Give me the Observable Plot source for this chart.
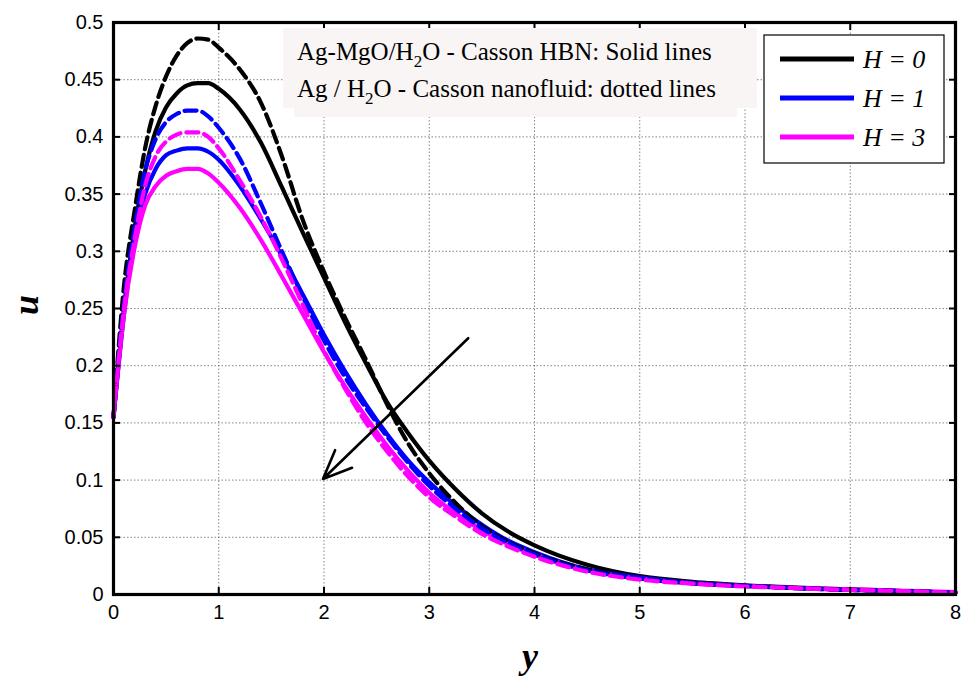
<!DOCTYPE html>
<html>
<head>
<meta charset="utf-8">
<script src="https://cdn.jsdelivr.net/npm/d3@7"></script>
<script src="https://cdn.jsdelivr.net/npm/@observablehq/plot@0.6"></script>
<style>
  html, body { margin: 0; padding: 0; background: #fff; }
  #chart { width: 964px; height: 679px; }
</style>
</head>
<body>
<div id="chart"></div>
<script>
// y (horizontal axis) sample positions
const yPos = [0, 0.1, 0.2, 0.3, 0.4, 0.5, 0.6, 0.7, 0.8, 0.9, 1.0, 1.2, 1.4, 1.6, 1.8, 2.0, 2.2, 2.4, 2.6, 2.8, 3.0, 3.25, 3.5, 3.75, 4.0, 4.5, 5, 5.5, 6, 6.5, 7, 7.5, 8];

// Ag-MgO/H2O Casson HBN (solid lines)
const hbn_H0 = [0.155, 0.25, 0.32, 0.37, 0.405, 0.426, 0.438, 0.445, 0.447, 0.447, 0.442, 0.424, 0.395, 0.356, 0.316, 0.277, 0.238, 0.202, 0.168, 0.141, 0.117, 0.092, 0.071, 0.055, 0.043, 0.026, 0.016, 0.011, 0.008, 0.006, 0.0045, 0.003, 0.0015];
const hbn_H1 = [0.155, 0.245, 0.31, 0.35, 0.372, 0.384, 0.388, 0.39, 0.39, 0.387, 0.38, 0.357, 0.328, 0.296, 0.262, 0.227, 0.195, 0.166, 0.14, 0.117, 0.098, 0.078, 0.061, 0.047, 0.037, 0.022, 0.015, 0.01, 0.0075, 0.0055, 0.004, 0.003, 0.0015];
const hbn_H3 = [0.155, 0.245, 0.303, 0.34, 0.357, 0.366, 0.37, 0.372, 0.372, 0.368, 0.36, 0.338, 0.31, 0.278, 0.245, 0.212, 0.182, 0.155, 0.13, 0.108, 0.089, 0.071, 0.056, 0.044, 0.035, 0.021, 0.014, 0.0098, 0.0075, 0.0057, 0.0045, 0.0033, 0.002];

// Ag/H2O Casson nanofluid (dotted lines)
const ag_H0 = [0.155, 0.27, 0.335, 0.39, 0.427, 0.453, 0.471, 0.482, 0.486, 0.485, 0.478, 0.459, 0.43, 0.383, 0.327, 0.282, 0.242, 0.205, 0.166, 0.132, 0.106, 0.08, 0.06, 0.046, 0.036, 0.022, 0.014, 0.01, 0.0075, 0.0055, 0.004, 0.003, 0.0015];
const ag_H1 = [0.155, 0.255, 0.32, 0.37, 0.398, 0.413, 0.42, 0.423, 0.423, 0.418, 0.408, 0.381, 0.342, 0.3, 0.26, 0.222, 0.19, 0.163, 0.138, 0.115, 0.095, 0.075, 0.058, 0.045, 0.035, 0.021, 0.014, 0.01, 0.0075, 0.0055, 0.004, 0.003, 0.0015];
const ag_H3 = [0.155, 0.25, 0.31, 0.357, 0.383, 0.396, 0.402, 0.404, 0.404, 0.4, 0.39, 0.362, 0.33, 0.293, 0.253, 0.213, 0.18, 0.15, 0.125, 0.103, 0.085, 0.068, 0.053, 0.042, 0.033, 0.02, 0.013, 0.0095, 0.007, 0.0055, 0.004, 0.003, 0.0015];

const xTicks = [0, 1, 2, 3, 4, 5, 6, 7, 8];
const yTicks = [0, 0.05, 0.1, 0.15, 0.2, 0.25, 0.3, 0.35, 0.4, 0.45, 0.5];
const hLabels = ["H = 0", "H = 1", "H = 3"];
const colors = ["#000000", "#0000ff", "#ff00ff"];
const noteLines = ["Ag-MgO/H|2|O - Casson HBN: Solid lines", "Ag / H|2|O - Casson nanofluid: dotted lines"];

// arrow (in data units)
const arrowStart = [3.37, 0.224];
const arrowEnd = [1.99, 0.101];

const solid = [hbn_H0, hbn_H1, hbn_H3];
const dashed = [ag_H0, ag_H1, ag_H3];
const rows = [];
solid.forEach((s, i) => s.forEach((u, j) => rows.push({y: yPos[j], u, H: hLabels[i], kind: "hbn"})));
dashed.forEach((s, i) => s.forEach((u, j) => rows.push({y: yPos[j], u, H: hLabels[i], kind: "ag"})));

const fmt = d => String(+d.toFixed(2));
const blank = () => "";

const plot = Plot.plot({
  width: 964,
  height: 679,
  marginLeft: 113,
  marginRight: 9,
  marginTop: 22,
  marginBottom: 85,
  style: {fontFamily: "'Liberation Sans', Arial, sans-serif", fontSize: "20px", background: "#fff", color: "#000"},
  x: {domain: [0, 8]},
  y: {domain: [0, 0.5]},
  color: {domain: hLabels, range: colors},
  marks: [
    Plot.gridX(xTicks, {stroke: "#555", strokeOpacity: 0.9, strokeDasharray: "1.5,2", strokeWidth: 0.8}),
    Plot.gridY(yTicks, {stroke: "#555", strokeOpacity: 0.9, strokeDasharray: "1.5,2", strokeWidth: 0.8}),
    Plot.line(rows.filter(d => d.kind === "hbn"), {x: "y", y: "u", z: "H", stroke: "H", strokeWidth: 4.2, curve: "monotone-x"}),
    Plot.line(rows.filter(d => d.kind === "ag"), {x: "y", y: "u", z: "H", stroke: "H", strokeWidth: 4.2, strokeDasharray: "12,6", curve: "monotone-x"}),
    Plot.arrow([{x1: arrowStart[0], y1: arrowStart[1], x2: arrowEnd[0], y2: arrowEnd[1]}], {x1: "x1", y1: "y1", x2: "x2", y2: "y2", stroke: "#000", strokeWidth: 2.6, headLength: 18, headAngle: 46}),
    Plot.axisX(xTicks, {anchor: "bottom", tickSize: -7, tickFormat: blank, label: null, strokeWidth: 2}),
    Plot.axisX(xTicks, {anchor: "top", tickSize: -7, tickFormat: blank, label: null, strokeWidth: 2}),
    Plot.axisY(yTicks, {anchor: "left", tickSize: -7, tickFormat: blank, label: null, strokeWidth: 2}),
    Plot.axisY(yTicks, {anchor: "right", tickSize: -7, tickFormat: blank, label: null, strokeWidth: 2}),
    Plot.axisX(xTicks, {anchor: "bottom", tickSize: 0, tickPadding: 10, tickFormat: fmt, label: null, fontSize: 20}),
    Plot.axisY(yTicks, {anchor: "left", tickSize: 0, tickPadding: 10, tickFormat: fmt, label: null, fontSize: 20}),
    Plot.frame({stroke: "#000", strokeWidth: 3.2})
  ]
});

document.getElementById("chart").appendChild(plot);

const svg = d3.select(plot);
const serif = "'Liberation Serif', 'Times New Roman', serif";

// axis titles
svg.append("text").attr("x", 530).attr("y", 668).attr("text-anchor", "middle")
  .attr("font-family", serif).attr("font-size", 36).attr("font-weight", "bold").attr("font-style", "italic").text("y");
svg.append("text").attr("transform", "translate(38,305) rotate(-90)").attr("text-anchor", "middle")
  .attr("font-family", serif).attr("font-size", 36).attr("font-weight", "bold").attr("font-style", "italic").text("u");

// annotation box
const note = svg.append("g").attr("text-anchor", "start");
note.append("rect").attr("x", 283).attr("y", 28).attr("width", 474).attr("height", 80).attr("fill", "#f8f5f4");
note.append("rect").attr("x", 294).attr("y", 107).attr("width", 443).attr("height", 10).attr("fill", "#f8f5f4");
noteLines.forEach((line, i) => {
  const t = note.append("text").attr("x", 297).attr("y", 60 + i * 37)
    .attr("font-family", serif).attr("font-size", 25).attr("fill", "#000");
  line.split("|").forEach((part, k) => {
    const ts = t.append("tspan").text(part);
    if (k === 1) ts.attr("dy", 7).attr("font-size", 17);
    if (k === 2) ts.attr("dy", -7).attr("font-size", 25);
  });
});

// legend
const lg = svg.append("g").attr("text-anchor", "start");
lg.append("rect").attr("x", 764).attr("y", 35).attr("width", 180).attr("height", 128)
  .attr("fill", "#fff").attr("stroke", "#000").attr("stroke-width", 1.2);
hLabels.forEach((lab, i) => {
  const yy = 59 + i * 39;
  lg.append("line").attr("x1", 780).attr("x2", 854).attr("y1", yy).attr("y2", yy)
    .attr("stroke", colors[i]).attr("stroke-width", 5);
  lg.append("text").attr("x", 863).attr("y", yy + 9)
    .attr("font-family", serif).attr("font-size", 26).attr("font-style", "italic").text(lab);
});
</script>
</body>
</html>
